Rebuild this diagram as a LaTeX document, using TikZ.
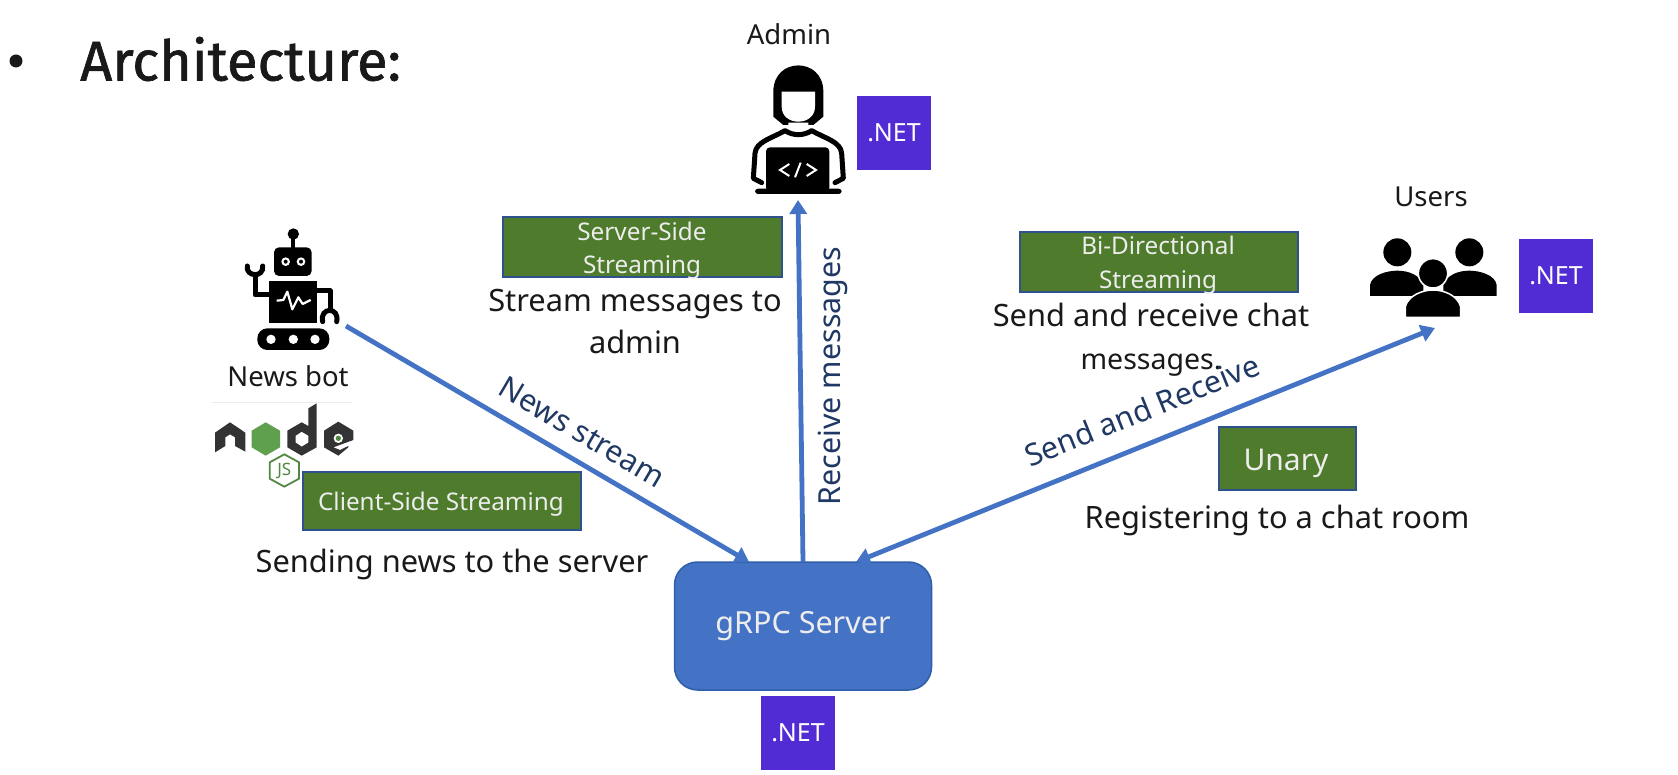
\documentclass[tikz,border=0pt]{standalone}
\usepackage{fontspec}
\setmainfont{Noto Sans}
\newfontfamily\headfont[FakeBold=1.2]{Fira Sans}
\usetikzlibrary{arrows.meta}
\definecolor{srvblue}{HTML}{4472C4}
\definecolor{srvedge}{HTML}{2F5FA8}
\definecolor{okgreen}{HTML}{4F7B2C}
\definecolor{gedge}{HTML}{2F528F}
\definecolor{netpurple}{HTML}{512BD4}
\definecolor{navy}{HTML}{1F3864}
\definecolor{nodedark}{HTML}{333333}
\definecolor{nodegreen}{HTML}{5FA04E}
\tikzset{
  x=1pt,y=-1pt,
  txt/.style={inner sep=0pt,align=center,text=black!90,font=\fontsize{30.8}{36}\selectfont},
  small/.style={inner sep=0pt,align=center,text=black!90,font=\fontsize{27.5}{32}\selectfont},
  greenbox/.style={draw=gedge,line width=1.2pt,fill=okgreen,inner sep=0pt},
  whitetxt/.style={inner sep=0pt,text=white!93!black,font=\fontsize{24.3}{28}\selectfont},
  netbox/.style={fill=netpurple,text=white,minimum width=74pt,minimum height=74pt,inner sep=0pt,font=\fontsize{25}{30}\selectfont},
  labeltxt/.style={inner sep=0pt,text=navy,font=\fontsize{30.4}{36}\selectfont},
  conn/.style={draw=srvblue,line width=4.8pt},
  tip/.style={-{Triangle[width=17pt,length=14pt]}},
  tiptwo/.style={{Triangle[width=17pt,length=14pt]}-{Triangle[width=17pt,length=14pt]}},
}
\begin{document}
\begin{tikzpicture}
\useasboundingbox (0,0) rectangle (1678,775);
\fill[white] (0,0) rectangle (1678,775);

% heading
\fill[black!90] (16,61) circle (6.5);
\node[anchor=west,inner sep=0pt,text=black!90,font=\headfont\fontsize{56}{64}\selectfont] (head) at (80,59) {Architecture:};

% server
\node[draw=srvedge,line width=1.5pt,fill=srvblue,rounded corners=23pt,minimum width=257pt,minimum height=128pt,inner sep=0pt,text=white!93!black,font=\fontsize{30.5}{36}\selectfont] (server) at (803,626) {\raisebox{-4pt}{gRPC Server}};

% .NET
\node[netbox] (netadmin) at (894,133) {.NET};
\node[netbox] (netusers) at (1556,276) {.NET};
\node[netbox] (netserver) at (798,733) {.NET};

% green boxes
\path[greenbox] (503,217) rectangle (782,277);
\path[greenbox] (1020,232) rectangle (1298,292);
\path[greenbox] (303,472) rectangle (581,530);
\path[greenbox] (1219,427) rectangle (1356,490);
\node[whitetxt] (ss1) at (642,231) {Server-Side};
\node[whitetxt] (ss2) at (642,267) {Streaming};
\node[whitetxt] (bd1) at (1158,245) {Bi-Directional};
\node[whitetxt] (bd2) at (1158,282) {Streaming};
\node[whitetxt] (cs) at (441,504) {Client-Side Streaming};
\node[whitetxt,font=\fontsize{30}{36}\selectfont] (un) at (1286,463) {Unary};

% text
\node[txt] (t1) at (635,304) {Stream messages to};
\node[txt] (t2) at (635,342) {admin};
\node[txt] (t3) at (1151,315) {Send and receive chat};
\node[txt,font=\fontsize{28.5}{34}\selectfont] (t4) at (1151,365) {messages.};
\node[txt] (t5) at (1277,520) {Registering to a chat room};
\node[txt] (t6) at (452,564) {Sending news to the server};
\node[small] (nb) at (288,376) {News bot};
\node[small] (adm) at (789,34) {Admin};
\node[small] (usr) at (1431,197) {Users};

% connectors
\coordinate (botend) at (346,326);
\coordinate (srvA) at (749,562);
\coordinate (srvB) at (803,562);
\coordinate (srvC) at (856,562);
\coordinate (adminend) at (798,200);
\coordinate (usersend) at (1435,328);
\draw[conn,tip] (botend) -- (srvA);
\draw[conn,tip] (srvB) -- (adminend);
\draw[conn,tiptwo] (srvC) -- (usersend);

\node[labeltxt,rotate=-30.5] (l1) at (582,432) {News stream};
\node[labeltxt,rotate=90] (l2) at (833,376) {Receive messages};
\node[labeltxt,rotate=22] (l3) at (1142,410) {Send and Receive};

% robot
\begin{scope}[shift={(200,210)},x=0.33333pt,y=-0.33333pt]
  \fill[black] (280,72) circle (17);
  \draw[black,line width=4pt] (280,75) -- (280,115);
  \fill[black,rounded corners=5pt] (222,112) rectangle (335,198);
  \fill[white] (257,155) circle (13) (303,155) circle (13);
  \fill[black] (257,155) circle (6) (303,155) circle (6);
  \fill[black] (208,213) rectangle (352,340);
  \draw[white,line width=2.2pt,line join=round] (230,272) -- (250,270) -- (262,245) -- (277,298) -- (295,262) -- (308,282) -- (332,270);
  \draw[black,line width=5pt,line join=round] (208,255) -- (165,255) -- (165,195);
  \draw[black,line width=5pt,line cap=round] (142,168) .. controls (136,200) and (192,205) .. (188,168);
  \draw[black,line width=5pt,line join=round] (352,243) -- (390,243) -- (390,305);
  \draw[black,line width=5pt,line cap=round] (368,335) .. controls (358,290) and (420,290) .. (410,335);
  \fill[black,rounded corners=10pt] (172,355) rectangle (388,420);
  \fill[white] (213,388) circle (14) (280,388) circle (14) (345,388) circle (14);
  % node.js logo
  \draw[black!8,line width=0.8pt] (35,578) -- (455,578);
  \fill[nodedark] (45,668) -- (90,637) -- (136,668) -- (136,725) -- (105,708) -- (105,682) -- (90,673) -- (76,682) -- (76,708) -- (45,727) -- cycle;
  \fill[nodegreen] (197,637) -- (240,662) -- (240,712) -- (197,737) -- (155,712) -- (155,662) -- cycle;
  \fill[nodedark,even odd rule] (350,580) -- (350,712) -- (305,737) -- (262,712) -- (262,662) -- (305,637) -- (325,648) -- (325,595) -- cycle (305,665) -- (325,677) -- (325,698) -- (305,710) -- (287,698) -- (287,677) -- cycle;
  \fill[nodedark] (415,635) -- (460,662) -- (460,690) -- (400,712) -- (420,720) -- (445,708) -- (445,712) -- (415,737) -- (372,712) -- (372,662) -- cycle;
  \fill[white] (415,685) circle (14);
  \fill[nodegreen!85!black] (415,685) circle (8);
  \draw[nodegreen!85!black,line width=1.8pt] (253,733) -- (297,757) -- (297,806) -- (253,830) -- (209,806) -- (209,757) -- cycle;
  \node[inner sep=0pt,text=nodegreen!85!black,font=\fontsize{17}{18}\selectfont] (js) at (253,782) {JS};
\end{scope}

% admin
\begin{scope}[shift={(700,10)},x=0.33333pt,y=-0.33333pt]
  \fill[black] (220,320) -- (220,245) .. controls (220,140) and (370,140) .. (370,245) -- (370,320) -- (340,345) -- (250,345) -- cycle;
  \fill[white] (245,245) -- (345,245) -- (345,290) .. controls (345,350) and (245,350) .. (245,290) -- cycle;
  \fill[white] (265,338) -- (325,338) -- (325,360) .. controls (310,372) and (280,372) .. (265,360) -- cycle;
  \draw[black,line width=5pt,line cap=round,line join=round] (185,518) -- (160,505) -- (165,430) .. controls (168,395) and (215,385) .. (255,362) .. controls (280,378) and (310,378) .. (335,362) .. controls (375,385) and (422,395) .. (425,430) -- (430,505) -- (405,518);
  \fill[black,rounded corners=4pt] (198,412) rectangle (388,545);
  \fill[black,rounded corners=3pt] (165,536) rectangle (425,552);
  \draw[white,line width=2pt] (268,462) -- (240,480) -- (268,498);
  \draw[white,line width=2pt] (320,462) -- (348,480) -- (320,498);
  \draw[white,line width=2pt] (302,458) -- (285,502);
\end{scope}

% users
\begin{scope}[shift={(1340,170)},x=0.33333pt,y=-0.33333pt]
  \fill[black] (172,247) circle (42) (388,247) circle (42);
  \fill[black] (90,378) -- (90,345) .. controls (95,315) and (140,302) .. (172,302) .. controls (205,302) and (240,315) .. (250,345) -- (250,378) -- cycle;
  \fill[black] (470,378) -- (470,345) .. controls (465,315) and (420,302) .. (388,302) .. controls (355,302) and (320,315) .. (310,345) -- (310,378) -- cycle;
  \fill[black,draw=white,line width=1.5pt] (279,310) circle (44);
  \fill[black,draw=white,line width=1.5pt] (196,442) -- (196,410) .. controls (205,375) and (250,360) .. (279,360) .. controls (310,360) and (352,375) .. (362,410) -- (362,442) -- cycle;
\end{scope}
\end{tikzpicture}
\end{document}
